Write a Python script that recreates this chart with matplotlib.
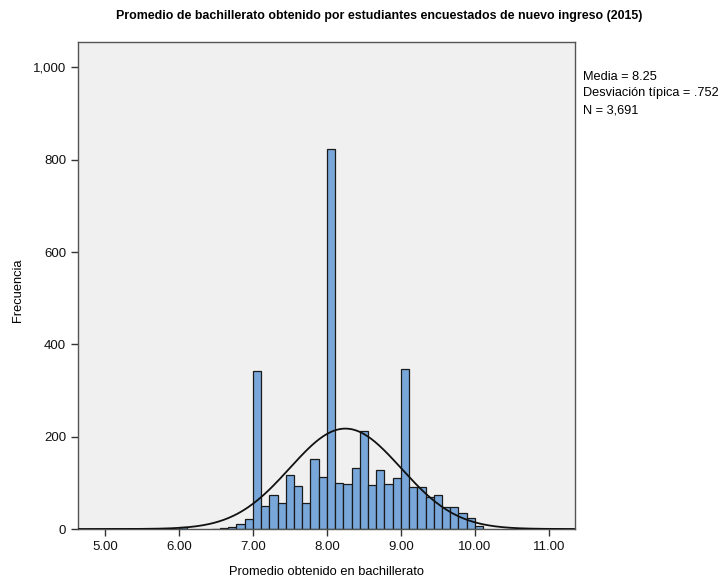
import numpy as np
import matplotlib
matplotlib.use('Agg')
import matplotlib.pyplot as plt
from matplotlib.ticker import FuncFormatter

# bin index k -> bin starts at 7 + k/9 (SPSS bin width 1/9)
bin_idx = [-14, -9, -5, -4, -3, -2, -1,
           0, 1, 2, 3, 4, 5, 6, 7, 8,
           9, 10, 11, 12, 13, 14, 15, 16, 17,
           18, 19, 20, 21, 22, 23, 24, 25, 26, 27]
counts = [1, 5, 1, 2, 4, 10, 21,
          343, 50, 74, 56, 116, 93, 56, 152, 112,
          824, 100, 98, 133, 213, 95, 128, 98, 111,
          347, 92, 91, 69, 74, 48, 48, 34, 24, 7]

media = 8.25
desv = 0.752
n_total = 3691
bin_w = 1 / 9

x_ticks = [5, 6, 7, 8, 9, 10, 11]
y_ticks = [0, 200, 400, 600, 800, 1000]

plt.rcParams['font.family'] = ['Liberation Sans', 'DejaVu Sans']

fig = plt.figure(figsize=(7.22, 5.83), dpi=100)
ax = fig.add_axes([0.108, 0.0926, 0.688, 0.836])
ax.set_facecolor('#f0f0f0')

starts = [7 + k * bin_w for k in bin_idx]
ax.bar(starts, counts, width=bin_w, align='edge', color='#79a7d9',
       edgecolor='#1a1a1a', linewidth=0.9, zorder=2)

xs = np.linspace(4.64, 11.34, 400)
ys = n_total * bin_w / (desv * np.sqrt(2 * np.pi)) * np.exp(-0.5 * ((xs - media) / desv) ** 2)
ax.plot(xs, ys, color='#111111', linewidth=1.3, zorder=3)

ax.set_xlim(4.635, 11.35)
ax.set_ylim(0, 1056)
ax.set_xticks(x_ticks)
ax.set_xticklabels([f'{v:.2f}' for v in x_ticks])
ax.set_yticks(y_ticks)
ax.yaxis.set_major_formatter(FuncFormatter(lambda v, p: f'{int(v):,}'))
ax.tick_params(direction='out', length=5, width=1, colors='#333333', labelsize=9.5,
               labelcolor='#111111')
for s in ax.spines.values():
    s.set_color('#555555')
    s.set_linewidth(1)

ax.set_xlabel('Promedio obtenido en bachillerato', fontsize=9.3)
ax.set_ylabel('Frecuencia', fontsize=9.3)
ax.xaxis.set_label_coords(0.5, -0.076)
ax.yaxis.set_label_coords(-0.109, 0.49)

fig.text(0.525, 0.972, 'Promedio de bachillerato obtenido por estudiantes encuestados de nuevo ingreso (2015)',
         ha='center', va='center', fontsize=8.9, fontweight='bold')
fig.text(0.807, 0.879, f'Media = {media:.2f}\nDesviación típica = .752\nN = {n_total:,}',
         ha='left', va='top', fontsize=9.2, linespacing=1.55)

fig.savefig('out.png', dpi=100)
